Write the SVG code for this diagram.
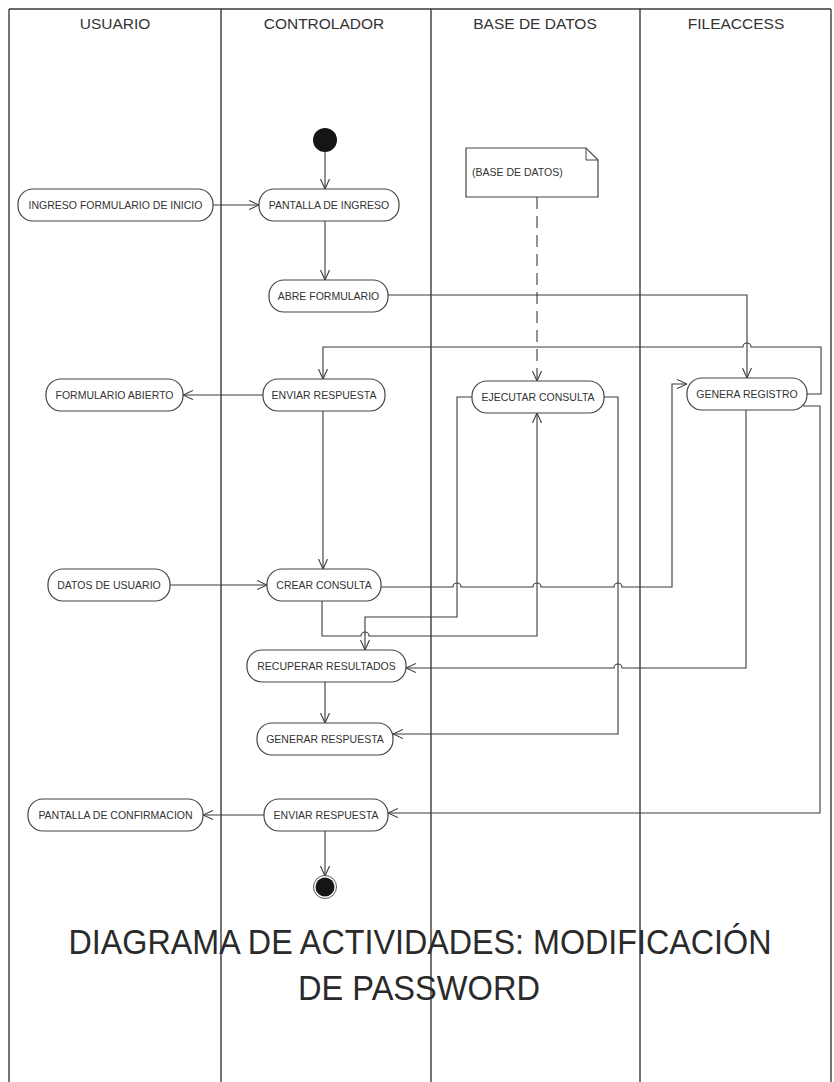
<svg xmlns="http://www.w3.org/2000/svg" width="834" height="1082" viewBox="0 0 834 1082">
  <defs>
    <style>
      .lane { stroke: #3a3a3a; stroke-width: 1.4; fill: none; }
      .hdr { font-family: "Liberation Sans", Arial, sans-serif; font-size: 15.5px; fill: #333; text-anchor: middle; }
      .act { fill: #fff; stroke: #444; stroke-width: 1.2; }
      .lbl { font-family: "Liberation Sans", Arial, sans-serif; font-size: 10.5px; fill: #333; text-anchor: middle; }
      .flow { fill: none; stroke: #3a3a3a; stroke-width: 1.1; marker-end: url(#arr); }
      .dep { fill: none; stroke: #3a3a3a; stroke-width: 1.1; stroke-dasharray: 12 7; marker-end: url(#arr); }
      .title { font-family: "Liberation Sans", Arial, sans-serif; font-size: 35px; fill: #2a2a2a; text-anchor: middle; }
    </style>
    <marker id="arr" viewBox="0 0 10 10" refX="10" refY="5" markerWidth="10" markerHeight="10" markerUnits="userSpaceOnUse" orient="auto">
      <path d="M0,0.5 L10,5 L0,9.5" fill="none" stroke="#3a3a3a" stroke-width="1.1"/>
    </marker>
  </defs>
  <rect width="834" height="1082" fill="#fff"/>

  <!-- swimlanes -->
  <g id="lanes">
    <path class="lane" d="M9,9 H831 M9,9 V1082 M221,9 V1082 M431,9 V1082 M640,9 V1082 M831,9 V1082"/>
    <text class="hdr" x="115" y="29">USUARIO</text>
    <text class="hdr" x="324" y="29">CONTROLADOR</text>
    <text class="hdr" x="535" y="29">BASE DE DATOS</text>
    <text class="hdr" x="736" y="29">FILEACCESS</text>
  </g>

  <!-- control flows -->
  <g id="connectors">
    <path class="flow" d="M325,152 V189"/>
    <path class="flow" d="M213,205 H259"/>
    <path class="flow" d="M325,221 V280"/>
    <path class="flow" d="M388,295 H747 V378"/>
    <path class="flow" d="M807,394 H821 V347 H751 A4,4 0 0 0 743,347 H323 V379"/>
    <path class="flow" d="M263,395 H183"/>
    <path class="flow" d="M323,411 V569"/>
    <path class="flow" d="M170,585 H267"/>
    <path class="flow" d="M381,587 H453 A4,4 0 0 1 461,587 H533 A4,4 0 0 1 541,587 H614 A4,4 0 0 1 622,587 H672 V384 H687"/>
    <path class="flow" d="M322,601 V636 H361 A4,4 0 0 1 369,636 H537 V413"/>
    <path class="flow" d="M472,397 H457 V617 H365 V650"/>
    <path class="flow" d="M604,397 H618 V734 H393"/>
    <path class="flow" d="M746,410 V668 H622 A4,4 0 0 0 614,668 H406"/>
    <path class="flow" d="M803,406 H820 V813 H388"/>
    <path class="flow" d="M325,682 V723"/>
    <path class="flow" d="M264,815 H203"/>
    <path class="flow" d="M325,831 V876"/>
    <path class="dep" d="M537,197 V381"/>
  </g>

  <!-- start / end -->
  <g id="start">
    <circle cx="325" cy="140" r="12" fill="#151515"/>
  </g>
  <g id="end">
    <circle cx="325" cy="887" r="11.5" fill="#fff" stroke="#555" stroke-width="1"/>
    <circle cx="325" cy="887" r="9.5" fill="#151515"/>
  </g>

  <!-- note -->
  <g id="note-bd">
    <path d="M466,148 H586 L598,160 V197 H466 Z" fill="#fff" stroke="#444" stroke-width="1.2"/>
    <path d="M586,148 V160 H598" fill="none" stroke="#444" stroke-width="1"/>
    <text x="472" y="176" font-family="Liberation Sans, Arial, sans-serif" font-size="10.5" fill="#333">(BASE DE DATOS)</text>
  </g>

  <!-- activities -->
  <g id="ingreso-formulario">
    <rect class="act" x="18" y="189" width="195" height="32" rx="15"/>
    <text class="lbl" x="115.5" y="209">INGRESO FORMULARIO DE INICIO</text>
  </g>
  <g id="pantalla-ingreso">
    <rect class="act" x="259" y="189" width="140" height="32" rx="15"/>
    <text class="lbl" x="329" y="209">PANTALLA DE INGRESO</text>
  </g>
  <g id="abre-formulario">
    <rect class="act" x="269" y="280" width="119" height="32" rx="15"/>
    <text class="lbl" x="328.5" y="300">ABRE FORMULARIO</text>
  </g>
  <g id="formulario-abierto">
    <rect class="act" x="46" y="379" width="137" height="32" rx="15"/>
    <text class="lbl" x="114.5" y="399">FORMULARIO ABIERTO</text>
  </g>
  <g id="enviar-respuesta-1">
    <rect class="act" x="263" y="379" width="122" height="32" rx="15"/>
    <text class="lbl" x="324" y="399">ENVIAR RESPUESTA</text>
  </g>
  <g id="ejecutar-consulta">
    <rect class="act" x="472" y="381" width="132" height="32" rx="15"/>
    <text class="lbl" x="538" y="401">EJECUTAR CONSULTA</text>
  </g>
  <g id="genera-registro">
    <rect class="act" x="687" y="378" width="120" height="32" rx="15"/>
    <text class="lbl" x="747" y="398">GENERA REGISTRO</text>
  </g>
  <g id="datos-usuario">
    <rect class="act" x="48" y="569" width="122" height="32" rx="15"/>
    <text class="lbl" x="109" y="589">DATOS DE USUARIO</text>
  </g>
  <g id="crear-consulta">
    <rect class="act" x="267" y="569" width="114" height="32" rx="15"/>
    <text class="lbl" x="324" y="589">CREAR CONSULTA</text>
  </g>
  <g id="recuperar-resultados">
    <rect class="act" x="247" y="650" width="159" height="32" rx="15"/>
    <text class="lbl" x="326.5" y="670">RECUPERAR RESULTADOS</text>
  </g>
  <g id="generar-respuesta">
    <rect class="act" x="257" y="723" width="136" height="32" rx="15"/>
    <text class="lbl" x="325" y="743">GENERAR RESPUESTA</text>
  </g>
  <g id="enviar-respuesta-2">
    <rect class="act" x="264" y="799" width="124" height="32" rx="15"/>
    <text class="lbl" x="326" y="819">ENVIAR RESPUESTA</text>
  </g>
  <g id="pantalla-confirmacion">
    <rect class="act" x="28" y="799" width="175" height="32" rx="15"/>
    <text class="lbl" x="115.5" y="819">PANTALLA DE CONFIRMACION</text>
  </g>

  <!-- title -->
  <g id="titulo">
    <text class="title" x="420" y="954" textLength="703" lengthAdjust="spacingAndGlyphs">DIAGRAMA DE ACTIVIDADES: MODIFICACIÓN</text>
    <text class="title" x="419" y="1000" textLength="242" lengthAdjust="spacingAndGlyphs">DE PASSWORD</text>
  </g>
</svg>
